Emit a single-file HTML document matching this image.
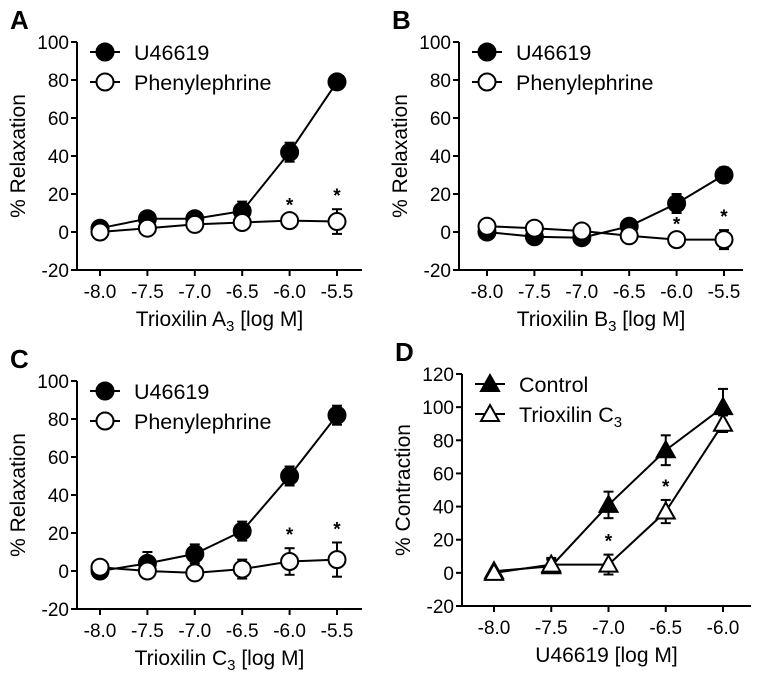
<!DOCTYPE html>
<html><head><meta charset="utf-8"><style>
body{margin:0;background:#fff}
svg{display:block;font-family:"Liberation Sans",Arial,sans-serif}
</style></head><body>
<svg id="fig" width="762" height="679" viewBox="0 0 762 679"></svg>
<script>
const xCatsABC = [-8.0,-7.5,-7.0,-6.5,-6.0,-5.5];
const xLabelsABC = ["-8.0","-7.5","-7.0","-6.5","-6.0","-5.5"];
const yTicksRelax = [-20,0,20,40,60,80,100];
const aU = [2,7,7,11,42,79];
const aUerr = [1,2,2,5,5,1];
const aP = [0,2,4,5,6,5.5];
const aPerr = [1,1,1,1,1,6.5];
const aStars = [-6.0,-5.5];
const bU = [0,-2.5,-3,3,15,30];
const bUerr = [1,1,1,3,5,4];
const bP = [3,2,0.5,-2,-4,-4];
const bPerr = [1,1,1,1,1,5];
const bStars = [-6.0,-5.5];
const cU = [0,4,9,21,50,82];
const cUerr = [1,6,5,5,5,5];
const cP = [2,0,-1,1,5,6];
const cPerr = [1,1,1,5,7,9];
const cStars = [-6.0,-5.5];
const xCatsD = [-8.0,-7.5,-7.0,-6.5,-6.0];
const xLabelsD = ["-8.0","-7.5","-7.0","-6.5","-6.0"];
const yTicksD = [-20,0,20,40,60,80,100,120];
const dC = [1,4,41,74,100];
const dCerr = [1,4,8,9,11];
const dT = [0,5,5,37,90];
const dTerr = [1,4,6,7,5];
const dStars = [-7.0,-6.5];

const NS="http://www.w3.org/2000/svg";
const svg=document.getElementById('fig');
function el(tag,attrs,parent,txt){const e=document.createElementNS(NS,tag);for(const k in attrs)e.setAttribute(k,attrs[k]);if(txt!==undefined)e.textContent=txt;(parent||svg).appendChild(e);return e;}

function panel(cfg){
  const g=el('g',{});
  
  
  const xs=v=>cfg.x0+(v-cfg.xmin)/(cfg.xmax-cfg.xmin)*(cfg.x1-cfg.x0);
  const ys=v=>cfg.y0+(v-cfg.ymin)/(cfg.ymax-cfg.ymin)*(cfg.y1-cfg.y0);
  const L=el('text',{x:cfg.ax-67,y:cfg.ytop-13,'font-size':26,'font-weight':'bold'},g,cfg.letter);
  
  
  const ybot=ys(cfg.ymin);
  el('line',{x1:cfg.ax,y1:ys(cfg.ymax),x2:cfg.ax,y2:ybot,stroke:'#000','stroke-width':2},g);
  el('line',{x1:cfg.ax,y1:ybot,x2:cfg.axEnd,y2:ybot,stroke:'#000','stroke-width':2},g);
  cfg.yTicks.forEach(t=>{
    el('line',{x1:cfg.ax-6,y1:ys(t),x2:cfg.ax,y2:ys(t),stroke:'#000','stroke-width':2},g);
    const tx=el('text',{x:cfg.ax-8,y:ys(t)+7,'font-size':19,'text-anchor':'end'},g,String(t));
    
    
  });
  cfg.xCats.forEach((c,i)=>{
    el('line',{x1:xs(c),y1:ybot,x2:xs(c),y2:ybot+6,stroke:'#000','stroke-width':2},g);
    const tx=el('text',{x:xs(c),y:ybot+28,'font-size':19,'text-anchor':'middle'},g,cfg.xLabels[i]);
    
    
  });
  const xt=el('text',{x:(cfg.ax+cfg.axEnd)/2,y:ybot+56,'font-size':21,'text-anchor':'middle'},g);
  
  
  xt.innerHTML=cfg.xTitle;
  const yt=el('text',{x:0,y:0,'font-size':21,'text-anchor':'middle',transform:`translate(${cfg.ax-52},${(ys(cfg.ymax)+ybot)/2}) rotate(-90)`},g,cfg.yTitle);
  
  
  cfg.series.forEach(s=>{
    const pts=cfg.xCats.map((c,i)=>xs(c)+','+ys(s.vals[i])).join(' ');
    const pl=el('polyline',{points:pts,fill:'none',stroke:'#000','stroke-width':2},g);
    
    
  });
  cfg.series.forEach(s=>{
    cfg.xCats.forEach((c,i)=>{
      const x=xs(c),v=s.vals[i],e=s.err[i];
      if(e>2){
        el('line',{x1:x,y1:ys(v+e),x2:x,y2:ys(v-e),stroke:'#000','stroke-width':2},g);
        el('line',{x1:x-5,y1:ys(v+e),x2:x+5,y2:ys(v+e),stroke:'#000','stroke-width':2},g);
        el('line',{x1:x-5,y1:ys(v-e),x2:x+5,y2:ys(v-e),stroke:'#000','stroke-width':2},g);
      }
      const m=marker(g,s.shape,x,ys(v),s.fill);
      
      
    });
  });
  cfg.stars.forEach(c=>{
    const i=cfg.xCats.indexOf(c);const s=cfg.series[cfg.starSeries];
    const st=el('text',{x:xs(c),y:ys(s.vals[i]+s.err[i])-7,'font-size':19,'font-weight':'bold','text-anchor':'middle'},g,'*');
    
    
  });
  cfg.series.forEach((s,k)=>{
    const ly=cfg.ytop+10+k*30,lx=cfg.ax+28;
    const lg=el('g',{},g);
    
    
    el('line',{x1:lx-15,y1:ly,x2:lx+15,y2:ly,stroke:'#000','stroke-width':2},lg);
    marker(lg,s.shape,lx,ly,s.fill);
    const t=el('text',{x:lx+29,y:ly+8,'font-size':21.5},lg);
    t.innerHTML=s.label;
  });
}
function marker(g,shape,x,y,fill){
  if(shape==='c') return el('circle',{cx:x,cy:y,r:8.5,fill:fill,stroke:'#000','stroke-width':2},g);
  return el('polygon',{points:`${x},${y-9} ${x+9},${y+7} ${x-9},${y+7}`,fill:fill,stroke:'#000','stroke-width':2},g);
}
const sub='<tspan font-size="15" dy="5">3</tspan><tspan dy="-5"> [log M]</tspan>';
panel({letter:'A',ax:77,axEnd:362,ytop:42,x0:100,x1:337,xmin:-8,xmax:-5.5,y0:270,y1:42,ymin:-20,ymax:100,
  yTicks:yTicksRelax,xCats:xCatsABC,xLabels:xLabelsABC,xTitle:'Trioxilin A'+sub,yTitle:'% Relaxation',stars:aStars,starSeries:1,
  series:[{key:'u46619',label:'U46619',vals:aU,err:aUerr,shape:'c',fill:'#000'},{key:'phenylephrine',label:'Phenylephrine',vals:aP,err:aPerr,shape:'c',fill:'#fff'}]});
panel({letter:'B',ax:459,axEnd:743,ytop:42,x0:487,x1:724,xmin:-8,xmax:-5.5,y0:270,y1:42,ymin:-20,ymax:100,
  yTicks:yTicksRelax,xCats:xCatsABC,xLabels:xLabelsABC,xTitle:'Trioxilin B'+sub,yTitle:'% Relaxation',stars:bStars,starSeries:1,
  series:[{key:'u46619',label:'U46619',vals:bU,err:bUerr,shape:'c',fill:'#000'},{key:'phenylephrine',label:'Phenylephrine',vals:bP,err:bPerr,shape:'c',fill:'#fff'}]});
panel({letter:'C',ax:77,axEnd:362,ytop:381,x0:100,x1:337,xmin:-8,xmax:-5.5,y0:609,y1:381,ymin:-20,ymax:100,
  yTicks:yTicksRelax,xCats:xCatsABC,xLabels:xLabelsABC,xTitle:'Trioxilin C'+sub,yTitle:'% Relaxation',stars:cStars,starSeries:1,
  series:[{key:'u46619',label:'U46619',vals:cU,err:cUerr,shape:'c',fill:'#000'},{key:'phenylephrine',label:'Phenylephrine',vals:cP,err:cPerr,shape:'c',fill:'#fff'}]});
panel({letter:'D',ax:462,axEnd:751,ytop:374,x0:494,x1:723,xmin:-8,xmax:-6,y0:606,y1:374,ymin:-20,ymax:120,
  yTicks:yTicksD,xCats:xCatsD,xLabels:xLabelsD,xTitle:'U46619 [log M]',yTitle:'% Contraction',stars:dStars,starSeries:1,
  series:[{key:'control',label:'Control',vals:dC,err:dCerr,shape:'t',fill:'#000'},{key:'trioxilin-c3',label:'Trioxilin C<tspan font-size="15" dy="5">3</tspan>',vals:dT,err:dTerr,shape:'t',fill:'#fff'}]});
</script>
</body></html>
